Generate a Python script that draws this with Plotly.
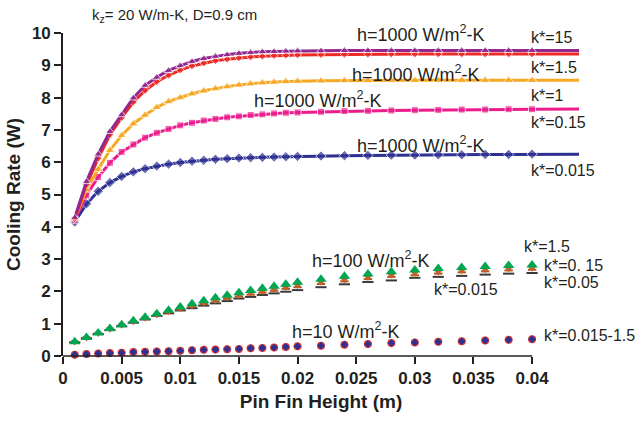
import plotly.graph_objects as go

# ---------------- data ----------------
x_pts = [0.001, 0.002, 0.003, 0.004, 0.005, 0.006, 0.007, 0.008, 0.009, 0.010,
         0.011, 0.012, 0.013, 0.014, 0.015, 0.016, 0.017, 0.018, 0.019, 0.020,
         0.022, 0.024, 0.026, 0.028, 0.030, 0.032, 0.034, 0.036, 0.038, 0.040]
x_line_end = 0.044  # lines for h=1000 continue past the last marker

h1000_k15 = [4.28, 5.40, 6.25, 6.95, 7.47, 7.99, 8.38, 8.63, 8.84, 8.99, 9.12, 9.21, 9.28, 9.33, 9.37,
             9.40, 9.42, 9.43, 9.44, 9.45, 9.45, 9.46, 9.46, 9.46, 9.46, 9.46, 9.46, 9.46, 9.46, 9.46, 9.46]
h1000_k1_5 = [4.25, 5.30, 6.12, 6.85, 7.38, 7.86, 8.22, 8.49, 8.69, 8.85, 8.98, 9.07, 9.14, 9.19, 9.23,
              9.26, 9.28, 9.30, 9.31, 9.32, 9.33, 9.34, 9.34, 9.35, 9.35, 9.35, 9.35, 9.35, 9.35, 9.35, 9.35]
h1000_k1 = [4.25, 5.15, 5.78, 6.37, 6.83, 7.19, 7.46, 7.70, 7.88, 8.00, 8.12, 8.21, 8.28, 8.34, 8.39,
            8.43, 8.46, 8.48, 8.50, 8.51, 8.52, 8.53, 8.53, 8.54, 8.54, 8.54, 8.54, 8.54, 8.54, 8.54, 8.54]
h1000_k0_15 = [4.22, 4.97, 5.54, 5.98, 6.32, 6.55, 6.76, 6.91, 7.03, 7.14, 7.22, 7.29, 7.34, 7.39, 7.42,
               7.46, 7.48, 7.51, 7.53, 7.54, 7.56, 7.58, 7.59, 7.60, 7.61, 7.62, 7.63, 7.63, 7.64, 7.64, 7.65]
h1000_k0_015 = [4.15, 4.71, 5.10, 5.37, 5.56, 5.70, 5.80, 5.88, 5.94, 5.99, 6.03, 6.06, 6.09, 6.11, 6.13,
                6.14, 6.15, 6.16, 6.17, 6.18, 6.19, 6.20, 6.21, 6.22, 6.22, 6.23, 6.23, 6.24, 6.24, 6.25, 6.25]

h100_k1_5 = [0.44, 0.57, 0.71, 0.85, 0.97, 1.09, 1.20, 1.31, 1.42, 1.52, 1.62, 1.71, 1.80, 1.88, 1.96,
             2.03, 2.10, 2.16, 2.22, 2.28, 2.38, 2.47, 2.54, 2.61, 2.66, 2.71, 2.74, 2.77, 2.80, 2.82]
h100_k0_15 = [0.43, 0.56, 0.70, 0.83, 0.95, 1.06, 1.17, 1.27, 1.37, 1.46, 1.55, 1.64, 1.72, 1.80, 1.87,
              1.94, 2.00, 2.06, 2.12, 2.18, 2.28, 2.36, 2.44, 2.50, 2.56, 2.60, 2.64, 2.67, 2.70, 2.72]
h100_k0_05 = [0.43, 0.56, 0.69, 0.82, 0.94, 1.05, 1.15, 1.25, 1.35, 1.44, 1.53, 1.61, 1.69, 1.77, 1.84,
              1.90, 1.96, 2.02, 2.08, 2.13, 2.23, 2.31, 2.38, 2.45, 2.50, 2.55, 2.59, 2.62, 2.65, 2.67]
h100_k0_015 = [0.42, 0.55, 0.68, 0.80, 0.92, 1.03, 1.13, 1.24, 1.32, 1.41, 1.48, 1.56, 1.63, 1.70, 1.78,
               1.83, 1.89, 1.94, 1.99, 2.04, 2.13, 2.22, 2.29, 2.34, 2.42, 2.45, 2.48, 2.52, 2.55, 2.57]

h10_k1_5 = [0.04, 0.06, 0.08, 0.09, 0.10, 0.12, 0.13, 0.14, 0.15, 0.16, 0.18, 0.19, 0.20, 0.21, 0.22,
            0.24, 0.25, 0.26, 0.28, 0.30, 0.32, 0.35, 0.37, 0.40, 0.42, 0.44, 0.46, 0.48, 0.50, 0.52]
h10_k0_015 = [0.04, 0.06, 0.08, 0.09, 0.10, 0.12, 0.13, 0.14, 0.15, 0.16, 0.18, 0.19, 0.20, 0.21, 0.22,
              0.24, 0.25, 0.26, 0.28, 0.30, 0.32, 0.35, 0.37, 0.40, 0.42, 0.44, 0.46, 0.48, 0.50, 0.52]

x_tickvals = [0, 0.005, 0.01, 0.015, 0.02, 0.025, 0.03, 0.035, 0.04]
x_ticktext = ["0", "0.005", "0.01", "0.015", "0.02", "0.025", "0.03", "0.035", "0.04"]
y_tickvals = [0, 1, 2, 3, 4, 5, 6, 7, 8, 9, 10]

# ---------------- figure ----------------
FONT = "Liberation Sans, Arial, sans-serif"
TXT = "#231f20"
fig = go.Figure()

x_line = x_pts + [x_line_end]
h1000 = [
    ("k*=0.015", h1000_k0_015, "#2e3192", "diamond", 8),
    ("k*=0.15", h1000_k0_15, "#ec1c8c", "square", 7),
    ("k*=1", h1000_k1, "#f7a823", "triangle-up", 9),
    ("k*=1.5", h1000_k1_5, "#ee2a24", "diamond", 6),
    ("k*=15", h1000_k15, "#92278f", "triangle-up", 8),
]
for name, vals, col, sym, sz in h1000:
    fig.add_trace(go.Scatter(
        x=x_line, y=vals, mode="lines+markers", name=name,
        line=dict(color=col, width=3),
        marker=dict(color=col, symbol=sym, size=[sz] * len(x_pts) + [0]),
        cliponaxis=False, showlegend=False))

fig.add_trace(go.Scatter(x=x_pts, y=h100_k0_015, mode="markers", name="h100 k*=0.015",
                         marker=dict(color="#3a3a3a", symbol="line-ew", size=8,
                                     line=dict(color="#3a3a3a", width=2)),
                         cliponaxis=False, showlegend=False))
fig.add_trace(go.Scatter(x=x_pts, y=h100_k0_05, mode="markers", name="h100 k*=0.05",
                         marker=dict(color="#b5541c", symbol="line-ew", size=6,
                                     line=dict(color="#b5541c", width=2)),
                         cliponaxis=False, showlegend=False))
fig.add_trace(go.Scatter(x=x_pts, y=h100_k0_15, mode="markers", name="h100 k*=0.15",
                         marker=dict(color="#c0632a", symbol="triangle-down", size=7),
                         cliponaxis=False, showlegend=False))
fig.add_trace(go.Scatter(x=x_pts, y=h100_k1_5, mode="markers", name="h100 k*=1.5",
                         marker=dict(color="#00a651", symbol="triangle-up", size=10),
                         cliponaxis=False, showlegend=False))

fig.add_trace(go.Scatter(x=x_pts, y=h10_k1_5, mode="markers", name="h10 k*=1.5",
                         marker=dict(color="#e8392f", symbol="circle", size=8),
                         cliponaxis=False, showlegend=False))
fig.add_trace(go.Scatter(x=x_pts, y=h10_k0_015, mode="markers", name="h10 k*=0.015",
                         marker=dict(color="#2e3192", symbol="diamond", size=6),
                         cliponaxis=False, showlegend=False))

# x-axis baseline (drawn only from 0 to 0.04)
fig.add_shape(type="line", xref="x", yref="paper", x0=0, x1=0.04, y0=0, y1=0,
              line=dict(color=TXT, width=1.6), layer="above")

W, H = 641, 421
L, R, T, B = 62.5, 61.5, 33, 61
PW, PH = W - L - R, H - T - B
B_Y = H - B

def px(xp, yp, text, size, anchor="center"):
    fig.add_annotation(text=text, xref="paper", yref="paper",
                       x=(xp - L) / PW, y=(B_Y - yp) / PH,
                       xanchor=anchor, yanchor="middle", showarrow=False,
                       font=dict(family=FONT, size=size, color=TXT))

hlab = "h=1000 W/m<sup>2</sup>-K"
px(421, 34, hlab, 18)
px(416, 74, hlab, 18)
px(318, 100, hlab, 18)
px(421, 146, hlab, 18)
px(529, 38, "k*=15", 16, "left")
px(529, 68, "k*=1.5", 16, "left")
px(529, 96, "k*=1", 16, "left")
px(529, 124, "k*=0.15", 16, "left")
px(529, 172, "k*=0.015", 16, "left")
px(371, 262, "h=100 W/m<sup>2</sup>-K", 18)
px(346, 334, "h=10 W/m<sup>2</sup>-K", 18)
px(522, 249, "k*=1.5", 16, "left")
px(542, 268, "k*=0. 15", 16, "left")
px(542, 286, "k*=0.05", 16, "left")
px(432, 293, "k*=0.015", 16, "left")
px(542, 339, "k*=0.015-1.5", 16, "left")
px(90, 15, "k<sub>z</sub>= 20 W/m-K, D=0.9 cm", 15, "left")

fig.update_layout(
    width=W, height=H,
    margin=dict(l=L, r=R, t=T, b=B, pad=0),
    paper_bgcolor="white", plot_bgcolor="white",
    font=dict(family=FONT, color=TXT),
    xaxis=dict(range=[0, x_line_end], tickvals=x_tickvals, ticktext=x_ticktext,
               showgrid=False, zeroline=False, showline=False,
               ticks="outside", ticklen=7, tickwidth=1.6, tickcolor=TXT,
               tickfont=dict(family=FONT, size=17, color=TXT, weight="bold"),
               title=dict(text="Pin Fin Height (m)", standoff=7,
                          font=dict(family=FONT, size=19, color=TXT, weight="bold"))),
    yaxis=dict(range=[0, 10], tickvals=y_tickvals,
               showgrid=False, zeroline=False, showline=True, linecolor=TXT, linewidth=1.6,
               ticks="outside", ticklen=7, tickwidth=1.6, tickcolor=TXT,
               tickfont=dict(family=FONT, size=17, color=TXT, weight="bold"),
               title=dict(text="Cooling Rate (W)", standoff=6,
                          font=dict(family=FONT, size=19, color=TXT, weight="bold"))),
)

fig.write_html("out.html")
